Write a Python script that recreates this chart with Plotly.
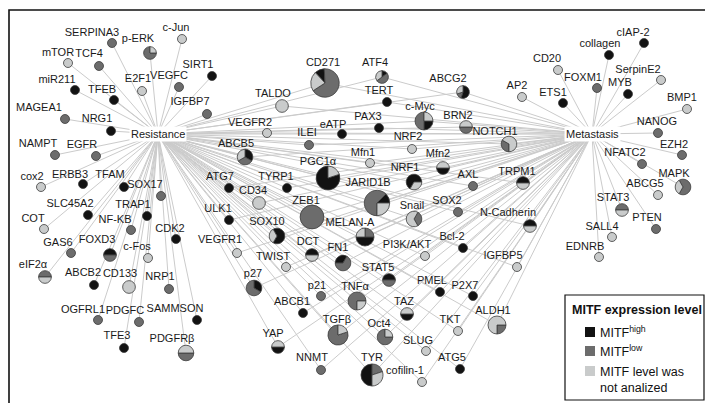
import math
import plotly.graph_objects as go

W, H = 705, 403

# ---- MITF status of the studies behind each gene: (high, low, not analysed) ----
resistance_mitf = {
    "SERPINA3": (0, 1, 0), "p-ERK": (0, 3, 1), "c-Jun": (0, 0, 1), "mTOR": (0, 0, 1),
    "TCF4": (0, 1, 0), "miR211": (1, 0, 0), "E2F1": (0, 0, 1), "VEGFC": (0, 1, 0),
    "TFEB": (1, 0, 0), "MAGEA1": (0, 1, 0), "NRG1": (1, 0, 0), "SIRT1": (1, 0, 0),
    "IGFBP7": (0, 1, 0), "NAMPT": (0, 1, 0), "EGFR": (0, 1, 0), "cox2": (0, 0, 1),
    "ERBB3": (1, 0, 0), "TFAM": (1, 0, 0), "SOX17": (0, 1, 0), "SLC45A2": (1, 0, 0),
    "TRAP1": (1, 0, 0), "COT": (0, 0, 1), "NF-KB": (0, 1, 0), "CDK2": (1, 0, 0),
    "GAS6": (0, 1, 0), "FOXD3": (1, 1, 0), "c-Fos": (0, 0, 1), "eIF2α": (0, 1, 1),
    "ABCB2": (1, 0, 0), "CD133": (0, 0, 1), "NRP1": (0, 1, 0), "OGFRL1": (0, 1, 0),
    "PDGFC": (0, 1, 0), "SAMMSON": (1, 0, 0), "TFE3": (1, 0, 0), "PDGFRβ": (0, 1, 1),
}

metastasis_mitf = {
    "cIAP-2": (1, 0, 0), "collagen": (1, 0, 0), "CD20": (0, 0, 1), "FOXM1": (0, 1, 0),
    "SerpinE2": (0, 0, 1), "MYB": (1, 0, 0), "ETS1": (1, 0, 0), "BMP1": (0, 0, 1),
    "NANOG": (0, 1, 0), "AP2": (0, 0, 1), "EZH2": (0, 1, 0), "NFATC2": (0, 1, 0),
    "MAPK": (0, 2, 1), "ABCG5": (0, 0, 1), "STAT3": (0, 1, 1), "PTEN": (0, 1, 0),
    "SALL4": (0, 0, 1), "EDNRB": (0, 0, 1),
}

shared_mitf = {
    "CD271": (1, 6, 2), "TALDO": (0, 0, 1), "VEGFR2": (0, 0, 1), "ILEI": (0, 1, 0),
    "eATP": (1, 0, 0), "ATF4": (15, 50, 35), "TERT": (1, 0, 0), "ABCG2": (55, 15, 30),
    "PAX3": (1, 0, 0), "c-Myc": (1, 2, 1), "BRN2": (0, 1, 1), "NOTCH1": (0, 1, 2),
    "NRF2": (0, 0, 1), "Mfn1": (0, 0, 1), "Mfn2": (1, 0, 1), "NRF1": (2, 0, 1),
    "PGC1α": (4, 0, 1), "JARID1B": (1, 5, 2), "AXL": (0, 1, 0), "TRPM1": (1, 0, 1),
    "ABCB5": (1, 1, 1), "ATG7": (1, 0, 0), "TYRP1": (1, 0, 0), "CD34": (0, 0, 1),
    "ZEB1": (0, 1, 0), "ULK1": (1, 0, 0), "SOX10": (2, 0, 1), "VEGFR1": (0, 0, 1),
    "DCT": (1, 0, 1), "TWIST": (0, 0, 1), "FN1": (1, 2, 0), "MELAN-A": (2, 1, 1),
    "Snail": (0, 1, 2), "SOX2": (0, 1, 0), "N-Cadherin": (1, 0, 1), "Bcl-2": (1, 0, 0),
    "PI3K/AKT": (0, 0, 1), "IGFBP5": (0, 0, 1), "STAT5": (1, 1, 0), "p27": (1, 2, 0),
    "p21": (0, 1, 0), "TNFα": (0, 3, 1), "ABCB1": (1, 0, 0), "TGFβ": (0, 4, 1),
    "YAP": (1, 0, 1), "NNMT": (0, 1, 0), "PMEL": (1, 0, 0), "P2X7": (1, 0, 0),
    "TAZ": (1, 0, 1), "ALDH1": (0, 1, 3), "Oct4": (0, 3, 1), "TKT": (0, 0, 1),
    "SLUG": (0, 0, 1), "ATG5": (1, 0, 0), "TYR": (5, 2, 3), "cofilin-1": (0, 0, 1),
}

# number of reports per gene (node area); genes not listed have one
node_weight = {
    "p-ERK": 2, "FOXD3": 2, "eIF2α": 2, "CD133": 2, "PDGFRβ": 3,
    "MAPK": 3, "STAT3": 2,
    "CD271": 10, "TALDO": 2, "ATF4": 2, "ABCG2": 2, "c-Myc": 4, "BRN2": 2,
    "NOTCH1": 3, "Mfn2": 2, "NRF1": 3, "PGC1α": 7, "JARID1B": 8, "TRPM1": 2,
    "ABCB5": 3, "CD34": 2, "ZEB1": 7, "SOX10": 3, "DCT": 2, "FN1": 3,
    "MELAN-A": 4, "Snail": 3, "N-Cadherin": 2, "STAT5": 2, "p27": 3, "TNFα": 4,
    "TGFβ": 5, "YAP": 2, "TAZ": 2, "ALDH1": 4, "Oct4": 3, "TYR": 6,
}

# ---- network layout (pixel space, y downwards) ----
hub_pos = {"Resistance": (158, 134), "Metastasis": (592, 134)}

node_pos = {
    "SERPINA3": (112, 43), "p-ERK": (150, 53), "c-Jun": (182, 39), "mTOR": (68, 63),
    "TCF4": (99, 66), "miR211": (75, 90), "E2F1": (142, 91), "VEGFC": (179, 87),
    "TFEB": (114, 100), "MAGEA1": (65, 119), "NRG1": (111, 131), "SIRT1": (212, 76),
    "IGFBP7": (207, 114), "NAMPT": (55, 155), "EGFR": (96, 156), "cox2": (41, 187),
    "ERBB3": (83, 184), "TFAM": (124, 187), "SOX17": (161, 196), "SLC45A2": (88, 215),
    "TRAP1": (147, 216), "COT": (44, 229), "NF-KB": (131, 230), "CDK2": (176, 239),
    "GAS6": (71, 253), "FOXD3": (110, 255), "c-Fos": (148, 258), "eIF2α": (45, 277),
    "ABCB2": (94, 285), "CD133": (129, 287), "NRP1": (169, 289), "OGFRL1": (98, 320),
    "PDGFC": (139, 322), "SAMMSON": (197, 320), "TFE3": (124, 348), "PDGFRβ": (186, 353),
    "cIAP-2": (644, 43), "collagen": (609, 55), "CD20": (558, 70), "FOXM1": (597, 88),
    "SerpinE2": (661, 80), "MYB": (628, 94), "ETS1": (563, 103), "BMP1": (687, 109),
    "NANOG": (658, 133), "AP2": (522, 97), "EZH2": (682, 155), "NFATC2": (642, 164),
    "MAPK": (683, 187), "ABCG5": (658, 195), "STAT3": (622, 210), "PTEN": (656, 229),
    "SALL4": (612, 237), "EDNRB": (599, 257),
    "CD271": (325, 83), "TALDO": (282, 106), "VEGFR2": (267, 133), "ILEI": (309, 145),
    "eATP": (342, 134), "ATF4": (382, 77), "TERT": (387, 102), "ABCG2": (463, 92),
    "PAX3": (379, 128), "c-Myc": (424, 121), "BRN2": (466, 127), "NOTCH1": (509, 144),
    "NRF2": (412, 149), "Mfn1": (370, 163), "Mfn2": (443, 168), "NRF1": (414, 182),
    "PGC1α": (328, 178), "JARID1B": (377, 203), "AXL": (473, 186), "TRPM1": (523, 183),
    "ABCB5": (245, 157), "ATG7": (229, 188), "TYRP1": (287, 188), "CD34": (259, 203),
    "ZEB1": (312, 217), "ULK1": (229, 220), "SOX10": (277, 236), "VEGFR1": (237, 253),
    "DCT": (312, 255), "TWIST": (286, 267), "FN1": (343, 263), "MELAN-A": (365, 237),
    "Snail": (414, 219), "SOX2": (458, 212), "N-Cadherin": (530, 226), "Bcl-2": (463, 248),
    "PI3K/AKT": (425, 256), "IGFBP5": (517, 267), "STAT5": (389, 280), "p27": (254, 288),
    "p21": (321, 296), "TNFα": (357, 301), "ABCB1": (303, 313), "TGFβ": (338, 335),
    "YAP": (278, 347), "NNMT": (321, 370), "PMEL": (440, 292), "P2X7": (473, 296),
    "TAZ": (407, 314), "ALDH1": (497, 325), "Oct4": (385, 337), "TKT": (458, 331),
    "SLUG": (426, 351), "ATG5": (460, 369), "TYR": (372, 375), "cofilin-1": (422, 382),
}

label_pos = {
    "SERPINA3": (92, 33), "p-ERK": (138, 39), "c-Jun": (176, 28), "mTOR": (58, 53),
    "TCF4": (89, 54), "miR211": (57, 80), "E2F1": (138, 79), "VEGFC": (169, 76),
    "TFEB": (102, 90), "MAGEA1": (39, 108), "NRG1": (97, 119), "SIRT1": (198, 65),
    "IGFBP7": (190, 102), "NAMPT": (38, 144), "EGFR": (82, 145), "cox2": (32, 177),
    "ERBB3": (70, 175), "TFAM": (110, 175), "SOX17": (145, 185), "SLC45A2": (70, 204),
    "TRAP1": (133, 205), "COT": (33, 219), "NF-KB": (115, 220), "CDK2": (170, 229),
    "GAS6": (58, 243), "FOXD3": (97, 240), "c-Fos": (137, 247), "eIF2α": (33, 265),
    "ABCB2": (83, 273), "CD133": (120, 274), "NRP1": (160, 277), "OGFRL1": (83, 310),
    "PDGFC": (125, 311), "SAMMSON": (175, 309), "TFE3": (117, 336), "PDGFRβ": (172, 339),
    "cIAP-2": (633, 33), "collagen": (600, 44), "CD20": (547, 59), "FOXM1": (583, 78),
    "SerpinE2": (638, 70), "MYB": (620, 83), "ETS1": (553, 93), "BMP1": (682, 98),
    "NANOG": (657, 122), "AP2": (517, 86), "EZH2": (674, 145), "NFATC2": (625, 153),
    "MAPK": (674, 174), "ABCG5": (645, 184), "STAT3": (613, 198), "PTEN": (647, 218),
    "SALL4": (602, 227), "EDNRB": (585, 247),
    "CD271": (323, 63), "TALDO": (273, 94), "VEGFR2": (250, 123), "ILEI": (307, 133),
    "eATP": (333, 125), "ATF4": (375, 63), "TERT": (379, 91), "ABCG2": (448, 79),
    "PAX3": (368, 117), "c-Myc": (420, 107), "BRN2": (458, 116), "NOTCH1": (495, 132),
    "NRF2": (408, 137), "Mfn1": (363, 153), "Mfn2": (438, 154), "NRF1": (405, 168),
    "PGC1α": (318, 162), "JARID1B": (368, 183), "AXL": (468, 175), "TRPM1": (517, 172),
    "ABCB5": (236, 144), "ATG7": (220, 177), "TYRP1": (276, 177), "CD34": (253, 191),
    "ZEB1": (306, 201), "ULK1": (218, 209), "SOX10": (267, 222), "VEGFR1": (220, 240),
    "DCT": (308, 242), "TWIST": (273, 257), "FN1": (338, 248), "MELAN-A": (350, 223),
    "Snail": (412, 206), "SOX2": (447, 201), "N-Cadherin": (508, 213), "Bcl-2": (452, 237),
    "PI3K/AKT": (407, 245), "IGFBP5": (503, 256), "STAT5": (378, 268), "p27": (253, 274),
    "p21": (317, 286), "TNFα": (355, 287), "ABCB1": (292, 302), "TGFβ": (337, 320),
    "YAP": (273, 334), "NNMT": (312, 358), "PMEL": (432, 281), "P2X7": (465, 286),
    "TAZ": (404, 302), "ALDH1": (493, 311), "Oct4": (379, 324), "TKT": (450, 320),
    "SLUG": (418, 341), "ATG5": (452, 358), "TYR": (372, 358), "cofilin-1": (405, 371),
}

# slice start angle (deg, clockwise from 12 o'clock) and winding for mixed nodes
pie_rotation = {
    "p-ERK": 90, "FOXD3": 270, "eIF2α": 270, "PDGFRβ": 90, "MAPK": 330, "STAT3": 270,
    "CD271": 317, "ATF4": 0, "ABCG2": 0, "c-Myc": 90, "BRN2": 90, "NOTCH1": 180,
    "Mfn2": 90, "NRF1": 210, "PGC1α": 72, "JARID1B": 45, "TRPM1": 270, "ABCB5": 0,
    "SOX10": 330, "DCT": 270, "FN1": 270, "MELAN-A": 90, "Snail": 30,
    "N-Cadherin": 270, "STAT5": 270, "p27": 0, "TNFα": 180, "TGFβ": 72, "YAP": 90,
    "TAZ": 90, "ALDH1": 90, "Oct4": 90, "TYR": 180,
}
counter_clockwise = {"JARID1B", "MELAN-A"}

STATUS = ["MITF high", "MITF low", "MITF not analysed"]
COLORS = ["#121212", "#6c6c6c", "#c9cbcb"]
EDGE = "#cbcbcb"
FONT = "Liberation Sans, Arial, sans-serif"

fig = go.Figure()

# ---- edges: every gene is linked to the hub(s) of its group ----
ex, ey = [], []
groups = [(resistance_mitf, ["Resistance"]), (metastasis_mitf, ["Metastasis"]),
          (shared_mitf, ["Resistance", "Metastasis"])]
for table, hubs in groups:
    for g in table:
        for hname in hubs:
            hx, hy = hub_pos[hname]
            nx, ny = node_pos[g]
            ex += [hx, nx, None]
            ey += [hy, ny, None]
fig.add_trace(go.Scatter(x=ex, y=ey, mode="lines", hoverinfo="skip",
                         line=dict(color=EDGE, width=1), showlegend=False))

# ---- gene labels ----
all_genes = list(resistance_mitf) + list(metastasis_mitf) + list(shared_mitf)
fig.add_trace(go.Scatter(
    x=[label_pos[g][0] for g in all_genes], y=[label_pos[g][1] for g in all_genes],
    text=all_genes, mode="text", hoverinfo="skip", showlegend=False,
    textfont=dict(family=FONT, size=11, color="#1a1a1a")))

# ---- nodes: one small pie per gene ----
BASE_D = 9.0
for table, _ in groups:
    for g, shares in table.items():
        cx, cy = node_pos[g]
        r = BASE_D * math.sqrt(node_weight.get(g, 1)) / 2
        keep = [i for i in range(3) if shares[i] > 0]
        fig.add_trace(go.Pie(
            values=[shares[i] for i in keep],
            labels=[STATUS[i] for i in keep],
            marker=dict(colors=[COLORS[i] for i in keep],
                        line=dict(color="#3c3c3c", width=0.8)),
            domain=dict(x=[(cx - r) / W, (cx + r) / W],
                        y=[1 - (cy + r) / H, 1 - (cy - r) / H]),
            sort=False, textinfo="none", showlegend=False,
            rotation=pie_rotation.get(g, 0),
            direction="counterclockwise" if g in counter_clockwise else "clockwise",
            name=g, hovertemplate=g + "<br>%{label}: %{percent}<extra></extra>"))

annotations = []
for hname, (hx, hy) in hub_pos.items():
    annotations.append(dict(x=hx, y=hy, xref="x", yref="y", text=hname,
                            showarrow=False, bgcolor="white", borderpad=1,
                            font=dict(family=FONT, size=11, color="#1a1a1a")))

# ---- colour key ----
shapes = [
    dict(type="rect", xref="x", yref="y", x0=9, y0=10, x1=760, y1=460,
         line=dict(color="#111111", width=1.6), layer="above"),
    dict(type="rect", xref="x", yref="y", x0=565, y0=295, x1=704, y1=400,
         line=dict(color="#111111", width=1.2), fillcolor="white", layer="above"),
]
annotations.append(dict(x=570, y=310, xref="x", yref="y", xanchor="left",
                        text="<b>MITF expression level</b>", showarrow=False,
                        font=dict(family=FONT, size=12.5, color="#111111")))
key_text = ["MITF<sup>high</sup>", "MITF<sup>low</sup>", "MITF level was<br>not analized"]
key_y = [332, 351, 371]
for col, txt, yy in zip(COLORS, key_text, key_y):
    shapes.append(dict(type="rect", xref="x", yref="y", x0=585, x1=595,
                       y0=yy - 5, y1=yy + 5, line=dict(width=0), fillcolor=col,
                       layer="above"))
    if "<br>" in txt:
        annotations.append(dict(x=598, y=yy - 8, xref="x", yref="y", xanchor="left",
                                yanchor="top", align="left", text=txt, showarrow=False,
                                font=dict(family=FONT, size=12.5, color="#111111")))
    else:
        annotations.append(dict(x=598, y=yy, xref="x", yref="y", xanchor="left",
                                text=txt, showarrow=False,
                                font=dict(family=FONT, size=12.5, color="#111111")))

fig.update_layout(
    width=W, height=H, margin=dict(l=0, r=0, t=0, b=0),
    paper_bgcolor="white", plot_bgcolor="white",
    xaxis=dict(range=[0, W], visible=False, fixedrange=True),
    yaxis=dict(range=[H, 0], visible=False, fixedrange=True),
    shapes=shapes, annotations=annotations, hovermode="closest",
)

fig.write_html("out.html")
